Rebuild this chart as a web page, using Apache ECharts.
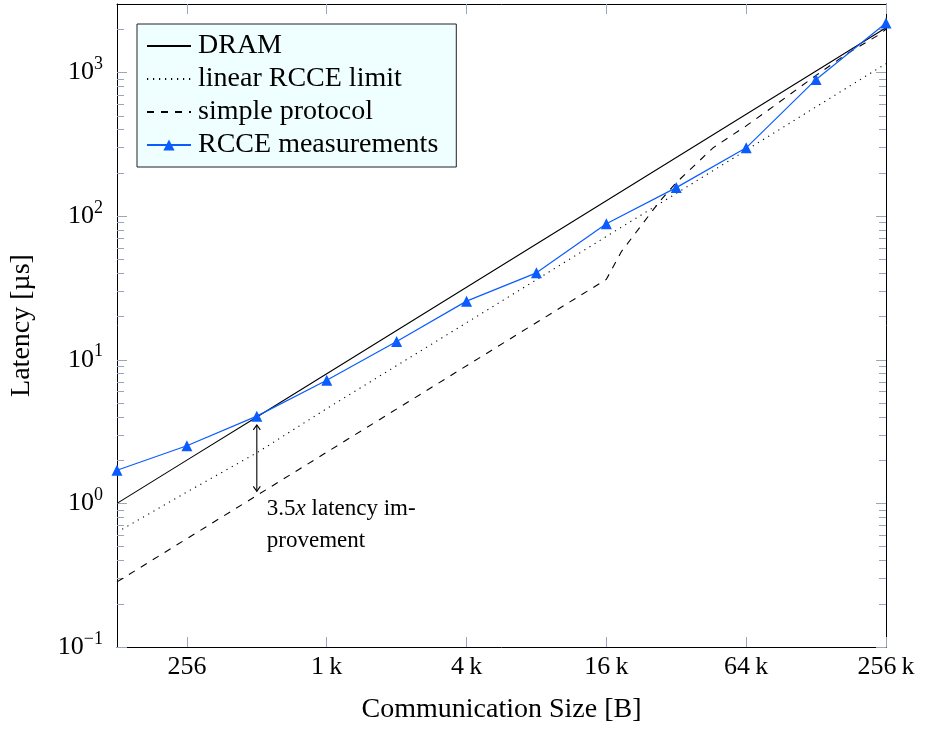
<!DOCTYPE html>
<html>
<head>
<meta charset="utf-8">
<script src="https://cdn.jsdelivr.net/npm/echarts@6/dist/echarts.min.js"></script>
<style>
html,body{margin:0;padding:0;background:#fff;}
#chart{width:926px;height:729px;}
</style>
</head>
<body>
<div id="chart"></div>
<script>
// ---- data ----
const sizes = [128, 256, 512, 1024, 2048, 4096, 8192, 16384, 32768, 65536, 131072, 262144];
const dramLatency = [1, 2, 4, 8, 16, 32, 64, 128, 256, 512, 1024, 2048];
const linearLimit = [0.63, 1.2, 2.25, 4.57, 9.1, 18.1, 36.1, 72.2, 144, 288, 577, 1153];
const rcceMeasured = [1.70, 2.52, 4.05, 7.2, 13.4, 25.6, 40.3, 88.5, 158, 299, 895, 2213];
const simpleSizes = [128, 16384, 19000, 27600, 32768, 47300, 65536, 80000, 131072, 178000, 241000, 262144];
const simpleLatency = [0.284, 36.3, 56.5, 125, 171, 300, 425, 535, 955, 1352, 1807, 2000];

const xTickValues = [256, 1024, 4096, 16384, 65536, 262144];
const xTickLabels = ['256', '1\u2009k', '4\u2009k', '16\u2009k', '64\u2009k', '256\u2009k'];
const yTickValues = [0.1, 1, 10, 100, 1000];
const yTickExponents = ['\u22121', '0', '1', '2', '3'];
const yMinorValues = [0.2,0.3,0.4,0.5,0.6,0.7,0.8,0.9, 2,3,4,5,6,7,8,9, 20,30,40,50,60,70,80,90, 200,300,400,500,600,700,800,900, 2000];

const annotationSize = 512;
const annotationTop = 4;
const annotationBottom = 1.12;
const annotationLines = ['3.5', 'x', ' latency im-', 'provement'];

const seriesNames = ['DRAM', 'linear RCCE limit', 'simple protocol', 'RCCE measurements'];

// ---- chart ----
const FONT = "'Liberation Serif', 'Times New Roman', serif";
const TICK = '#9aa6bd';
const BLUE = '#0a5cff';

function zip(xs, ys) { return xs.map((x, i) => [x, ys[i]]); }
function closestIdx(arr, v) {
  let best = 0, bd = Infinity;
  arr.forEach((a, i) => { const d = Math.abs(Math.log(a) - Math.log(v)); if (d < bd) { bd = d; best = i; } });
  return best;
}

const xCommon = {
  type: 'log', logBase: 2, min: 128, max: 262144,
  splitLine: { show: false },
  axisLine: { show: true, lineStyle: { color: '#000', width: 1 } },
  axisTick: { show: true, inside: true, length: 10, customValues: xTickValues, lineStyle: { color: TICK, width: 1 } },
  minorTick: { show: false }
};
const yCommon = {
  type: 'log', logBase: 10, min: 0.1, max: 3000,
  splitLine: { show: false },
  axisLine: { show: true, lineStyle: { color: '#000', width: 1 } },
  axisTick: { show: true, inside: true, length: 10, customValues: yTickValues, lineStyle: { color: TICK, width: 1 } }
};
const yMinor = {
  type: 'log', logBase: 10, min: 0.1, max: 3000,
  splitLine: { show: false },
  axisLine: { show: false },
  axisLabel: { show: false },
  axisTick: { show: true, inside: true, length: 7, customValues: yMinorValues, lineStyle: { color: TICK, width: 1 } }
};

const hideSym = { opacity: 0 };

const option = {
  animation: false,
  backgroundColor: '#fff',
  grid: { left: 114, top: 4, width: 772, height: 649, containLabel: false },
  legend: {
    data: [
      { name: seriesNames[0], itemStyle: hideSym },
      { name: seriesNames[1], itemStyle: hideSym },
      { name: seriesNames[2], itemStyle: hideSym },
      { name: seriesNames[3] }
    ],
    orient: 'vertical',
    left: 137, top: 24,
    padding: [8, 18, 8, 9],
    itemGap: 5,
    itemWidth: 44,
    itemHeight: 14,
    backgroundColor: '#effefe',
    borderColor: '#222',
    borderWidth: 1,
    borderRadius: 0,
    textStyle: { fontFamily: FONT, fontSize: 28, color: '#000', padding: [0,0,0,2] }
  },
  xAxis: [
    Object.assign({}, xCommon, {
      position: 'bottom',
      name: 'Communication Size [B]',
      nameLocation: 'middle',
      nameGap: 49,
      nameTextStyle: { fontFamily: FONT, fontSize: 28, color: '#000' },
      axisLabel: {
        show: true, margin: 7, customValues: xTickValues,
        fontFamily: FONT, fontSize: 26, color: '#000',
        formatter: v => xTickLabels[closestIdx(xTickValues, v)]
      }
    }),
    Object.assign({}, xCommon, { position: 'top', axisLabel: { show: false } })
  ],
  yAxis: [
    Object.assign({}, yCommon, {
      position: 'left',
      name: 'Latency [\u00b5s]',
      nameLocation: 'middle',
      nameGap: 81,
      nameRotate: 90,
      nameTextStyle: { fontFamily: FONT, fontSize: 28, color: '#000' },
      axisLabel: {
        show: true, margin: 14, customValues: yTickValues,
        formatter: v => '{b|10}{s|' + yTickExponents[closestIdx(yTickValues, v)] + '}',
        rich: {
          b: { fontFamily: FONT, fontSize: 26, color: '#000', lineHeight: 34, verticalAlign: 'middle' },
          s: { fontFamily: FONT, fontSize: 18, color: '#000', lineHeight: 18, verticalAlign: 'top' }
        }
      }
    }),
    Object.assign({}, yCommon, { position: 'right', axisLabel: { show: false } }),
    Object.assign({}, yMinor, { position: 'left' }),
    Object.assign({}, yMinor, { position: 'right' })
  ],
  series: [
    {
      name: seriesNames[0], type: 'line', xAxisIndex: 0, yAxisIndex: 0,
      data: zip(sizes, dramLatency), symbol: 'none',
      lineStyle: { color: '#000', width: 1.1, type: 'solid' }, itemStyle: { color: '#000' }
    },
    {
      name: seriesNames[1], type: 'line', xAxisIndex: 0, yAxisIndex: 0,
      data: zip(sizes, linearLimit), symbol: 'none',
      lineStyle: { color: '#000', width: 1.1, type: [1.2, 4.8] }, itemStyle: { color: '#000' }
    },
    {
      name: seriesNames[2], type: 'line', xAxisIndex: 0, yAxisIndex: 0,
      data: zip(simpleSizes, simpleLatency), symbol: 'none',
      lineStyle: { color: '#000', width: 1.1, type: [7, 7] }, itemStyle: { color: '#000' }
    },
    {
      name: seriesNames[3], type: 'line', xAxisIndex: 0, yAxisIndex: 0,
      data: zip(sizes, rcceMeasured), symbol: 'triangle', symbolSize: 11, showSymbol: true,
      lineStyle: { color: BLUE, width: 1.2 }, itemStyle: { color: BLUE }, z: 5
    },
    {
      name: 'annotation', type: 'custom', xAxisIndex: 0, yAxisIndex: 0,
      data: [[annotationSize, annotationTop, annotationBottom]],
      encode: { x: 0, y: 1 },
      silent: true, z: 6,
      renderItem: function (params, api) {
        const top = api.coord([api.value(0), api.value(1)]);
        const bot = api.coord([api.value(0), api.value(2)]);
        const x = top[0];
        const y1 = top[1] + 8, y2 = bot[1] - 5;
        const h = 5, w = 3.5;
        const st = { stroke: '#000', lineWidth: 1.1, fill: null };
        return {
          type: 'group',
          children: [
            { type: 'line', shape: { x1: x, y1: y1, x2: x, y2: y2 }, style: st },
            { type: 'polyline', shape: { points: [[x - w, y1 + h], [x, y1], [x + w, y1 + h]] }, style: st },
            { type: 'polyline', shape: { points: [[x - w, y2 - h], [x, y2], [x + w, y2 - h]] }, style: st },
            {
              type: 'text',
              x: x + 10, y: bot[1] - 3,
              style: {
                text: '{n|' + annotationLines[0] + '}{i|' + annotationLines[1] + '}{n|' + annotationLines[2] + '}\n{n|' + annotationLines[3] + '}',
                rich: {
                  n: { fontFamily: FONT, fontSize: 23, fill: '#000', lineHeight: 32 },
                  i: { fontFamily: FONT, fontSize: 23, fontStyle: 'italic', fill: '#000', lineHeight: 32 }
                },
                align: 'left', verticalAlign: 'top'
              }
            }
          ]
        };
      }
    }
  ]
};

const chart = echarts.init(document.getElementById('chart'), null, { renderer: 'canvas' });
chart.setOption(option);
</script>
</body>
</html>
